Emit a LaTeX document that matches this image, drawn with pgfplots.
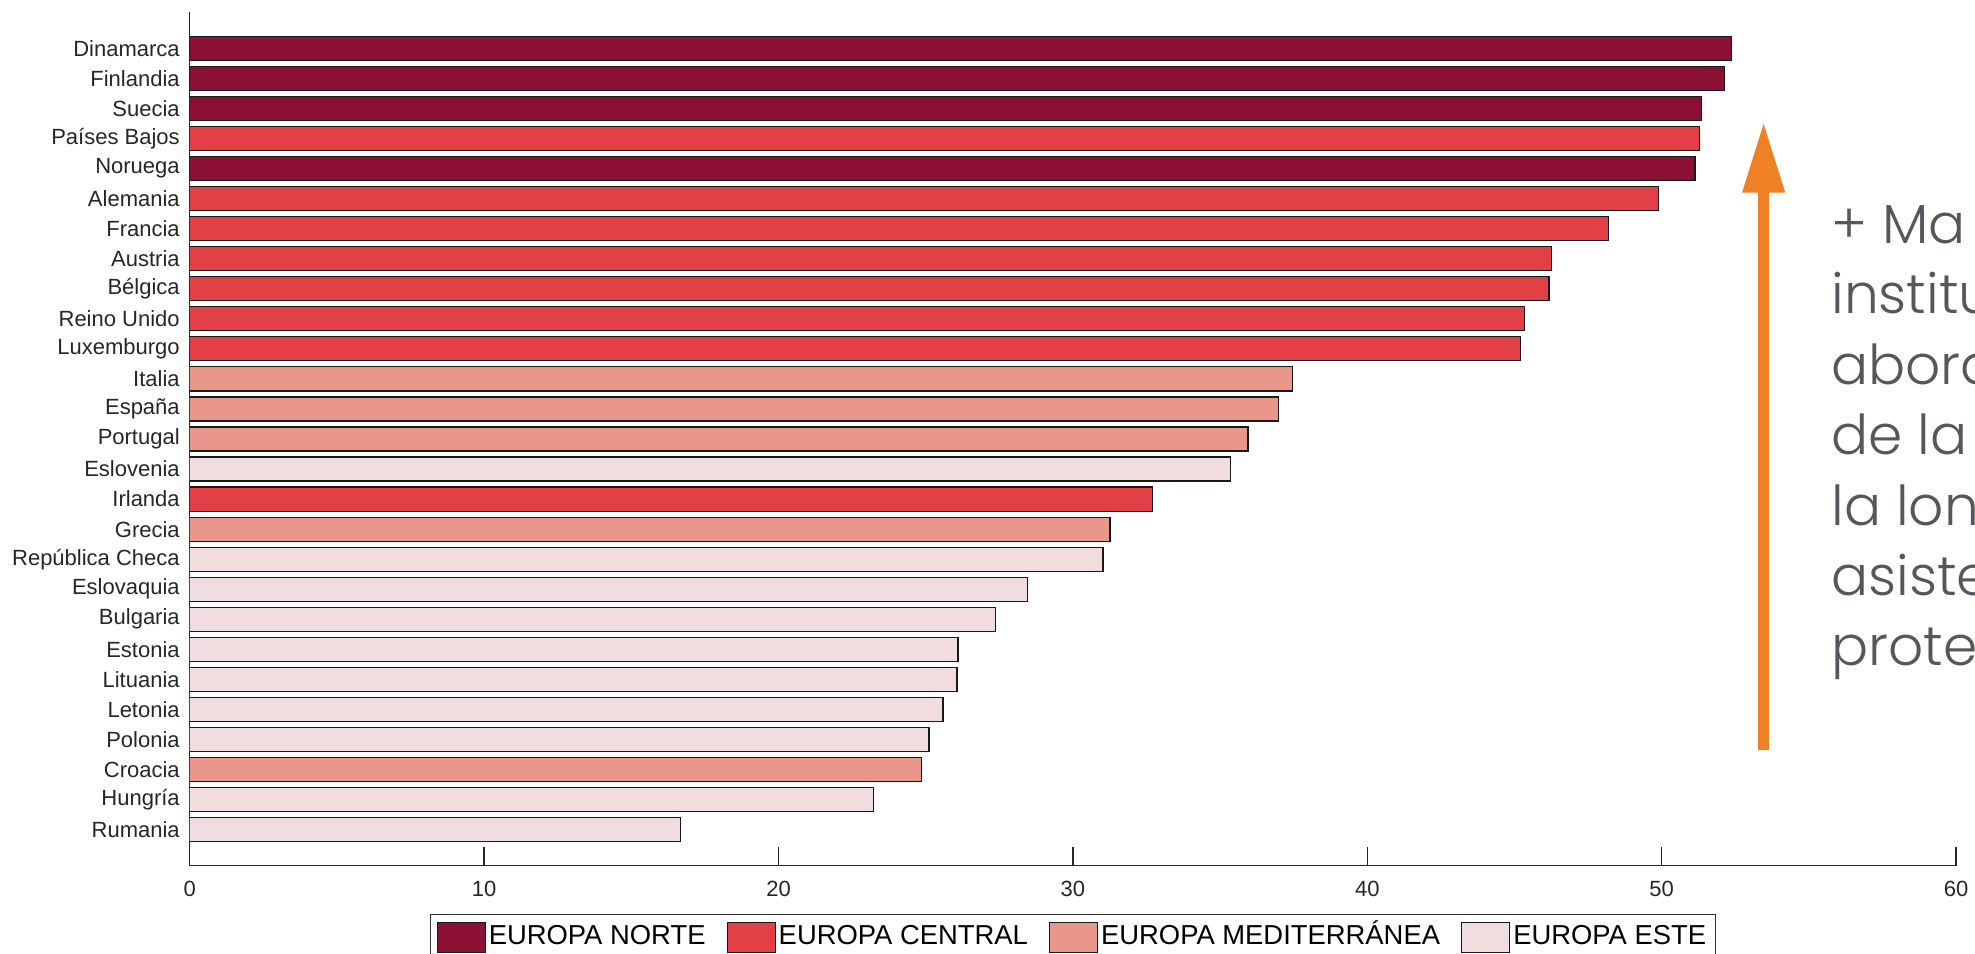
\documentclass[border=0pt]{standalone}
\usepackage{pgfplots}
\pgfplotsset{compat=1.18}
\usepackage{fontspec}
\setmainfont{Liberation Sans}
\newfontfamily\gothic{Poppins Light}
\usetikzlibrary{arrows.meta}
\definecolor{cNorte}{HTML}{8B1034}
\definecolor{cCentral}{HTML}{E23F46}
\definecolor{cMed}{HTML}{E9978B}
\definecolor{cEste}{HTML}{F1DDE0}
\definecolor{cOrange}{HTML}{F08024}
\definecolor{cGray}{HTML}{54575B}
\pgfplotsset{mylegend/.style={legend image code/.code={\draw[##1,line width=0.6pt] (0pt,-7.5pt) rectangle (24pt,7.5pt);}}}
\begin{document}
\begin{tikzpicture}
\useasboundingbox (0,0) rectangle (987.5pt,476.5pt);
\begin{axis}[
  at={(94.85pt,43.65pt)}, anchor=south west,
  scale only axis, width=883.2pt, height=426.7pt,
  xbar, bar width=0.8, bar shift=0pt,
  xmin=0, xmax=60, ymin=-0.2, ymax=28.2,
  axis x line*=bottom, axis y line*=left,
  axis line style={black!85, line width=0.7pt},
  xtick={0,10,...,60},
  x tick style={black!85, line width=0.7pt},
  tick align=inside, major tick length=9.3pt,
  ytick={1,...,27},
  y tick style={draw=none},
  yticklabels={Rumania,Hungría,Croacia,Polonia,Letonia,Lituania,Estonia,Bulgaria,Eslovaquia,República Checa,Grecia,Irlanda,Eslovenia,Portugal,España,Italia,Luxemburgo,Reino Unido,Bélgica,Austria,Francia,Alemania,Noruega,Países Bajos,Suecia,Finlandia,Dinamarca},
  yticklabel style={font=\fontsize{11}{13}\selectfont, text=black!85, inner sep=0pt, xshift=-4.8pt},
  xticklabel style={font=\fontsize{11}{13}\selectfont, text=black!85, inner sep=0pt, yshift=-7.5pt},
  /pgf/number format/assume math mode=true,
  legend style={at={(0.5,-0.0566)}, anchor=north, legend columns=4,
    draw=black!80, line width=0.6pt,
    font=\fontsize{13.7}{16}\selectfont,
    /tikz/every even column/.append style={column sep=9pt},
    inner xsep=3pt, inner ysep=3.5pt,
    nodes={inner sep=1.5pt, text height=10pt, text depth=3pt}},
  legend cell align=left,
]
\addplot[fill=cNorte, draw=black!90, line width=0.6pt, mylegend] coordinates {
 (52.36,27) (52.12,26) (51.35,25) (51.13,23)};
\addlegendentry{EUROPA NORTE}
\addplot[fill=cCentral, draw=black!90, line width=0.6pt, mylegend] coordinates {
 (51.28,24) (49.89,22) (48.20,21) (46.26,20) (46.17,19) (45.34,18) (45.20,17) (32.70,12)};
\addlegendentry{EUROPA CENTRAL}
\addplot[fill=cMed, draw=black!90, line width=0.6pt, mylegend] coordinates {
 (37.45,16) (36.99,15) (35.95,14) (31.26,11) (24.87,3)};
\addlegendentry{EUROPA MEDITERRÁNEA}
\addplot[fill=cEste, draw=black!90, line width=0.6pt, mylegend] coordinates {
 (35.36,13) (31.02,10) (28.47,9) (27.37,8) (26.10,7) (26.06,6) (25.59,5) (25.11,4) (23.22,2) (16.68,1)};
\addlegendentry{EUROPA ESTE}
\end{axis}
\draw[cOrange, line width=5.8pt, -{Triangle[width=19.8pt,length=35.5pt]}] (881.8pt,101.5pt) -- (881.8pt,415.65pt);
\begin{scope}
\clip (0,0) rectangle (987.5pt,476.5pt);
\begin{scope}[every node/.style={anchor=base west, inner sep=0pt, text=cGray, font=\gothic\fontsize{27.5}{33}\selectfont}]
\node at (915.5pt,354.5pt) {+ Ma};
\node at (915.5pt,319.5pt) {institu};
\node at (915.5pt,284pt) {abord};
\node at (915.5pt,249pt) {de la};
\node at (915.5pt,213.5pt) {la lon};
\node at (915.5pt,178.5pt) {asiste};
\node at (915.5pt,143.5pt) {prote};
\end{scope}
\end{scope}
\end{tikzpicture}
\end{document}
